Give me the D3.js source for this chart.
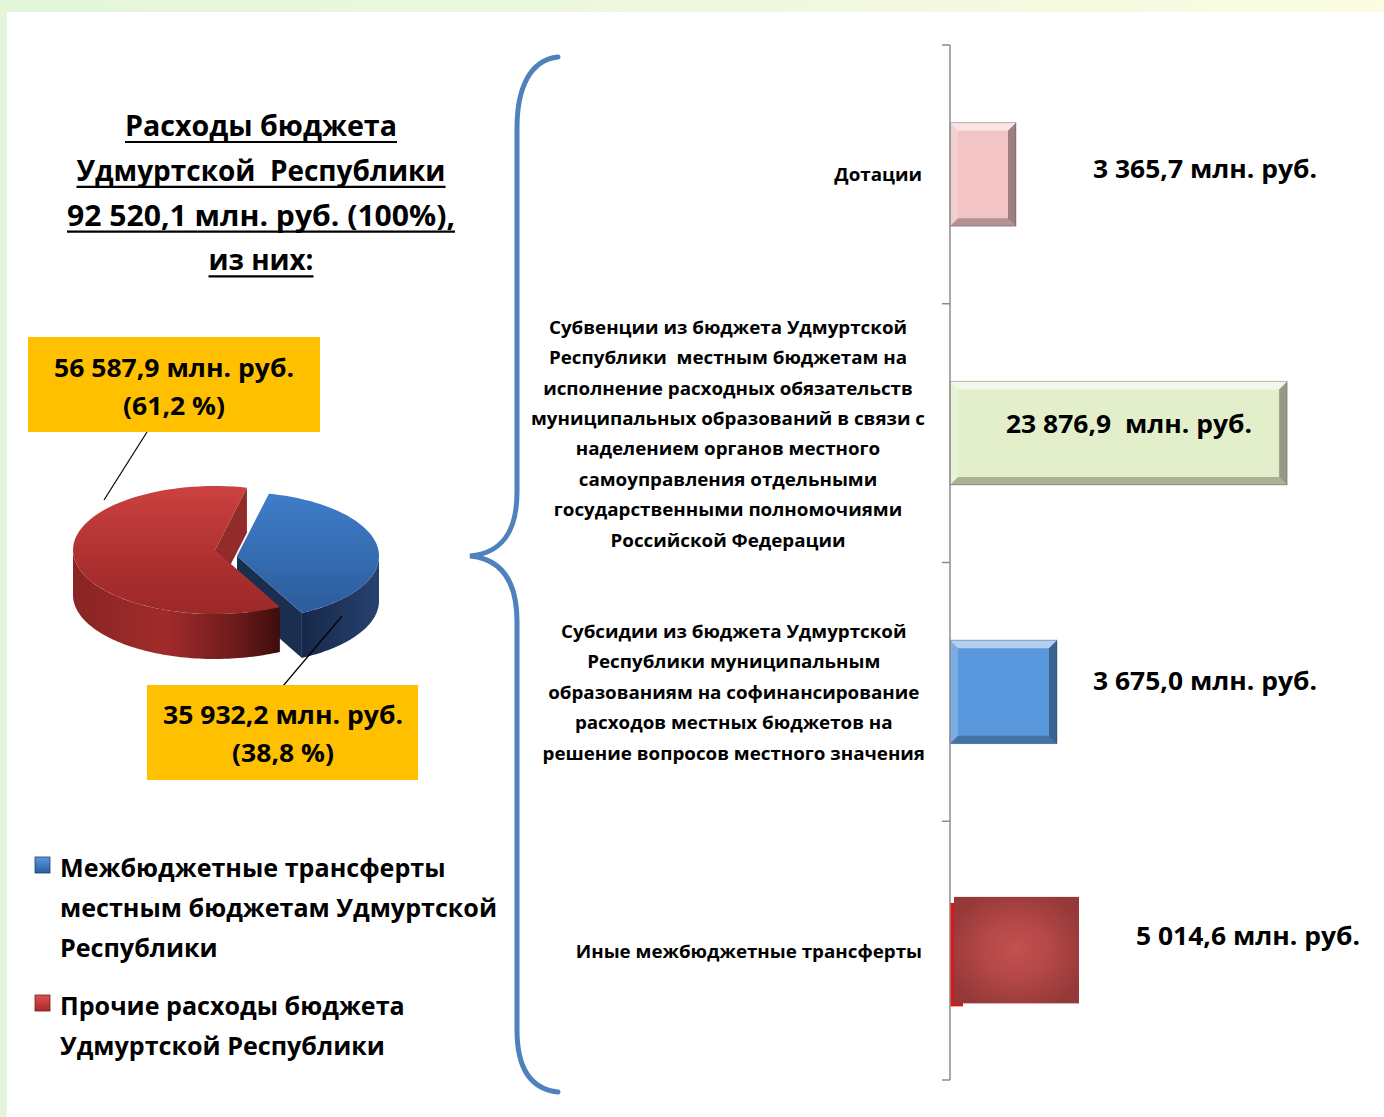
<!DOCTYPE html>
<html><head><meta charset="utf-8">
<script src="https://cdn.jsdelivr.net/npm/d3@7"></script>
<style>
html,body{margin:0;padding:0;background:#fff;}
svg{display:block;}
text{font-family:"Open Sans","Noto Sans","DejaVu Sans",sans-serif;font-weight:700;fill:#000;white-space:pre;}
</style></head>
<body><svg id="chart" width="1384" height="1117"></svg>
<script>
// ---------------- DATA ----------------
const titleLines = ["Расходы бюджета", "Удмуртской  Республики", "92 520,1 млн. руб. (100%),", "из них:"];

const pieCategories = ["Межбюджетные трансферты местным бюджетам Удмуртской Республики",
                       "Прочие расходы бюджета Удмуртской Республики"];
const pieValues = [35932.2, 56587.9];
const piePercents = [38.8, 61.2];
const pieLabelLines = [["35 932,2 млн. руб.", "(38,8 %)"], ["56 587,9 млн. руб.", "(61,2 %)"]];
const legendLines = [["Межбюджетные трансферты", "местным бюджетам Удмуртской", "Республики"],
                     ["Прочие расходы бюджета", "Удмуртской Республики"]];

const barCategories = ["Дотации", "Субвенции", "Субсидии", "Иные"];
const barCategoryLines = [
  ["Дотации"],
  ["Субвенции из бюджета Удмуртской", "Республики  местным бюджетам на", "исполнение расходных обязательств",
   "муниципальных образований в связи с", "наделением органов местного", "самоуправления отдельными",
   "государственными полномочиями", "Российской Федерации"],
  ["Субсидии из бюджета Удмуртской", "Республики муниципальным", "образованиям на софинансирование",
   "расходов местных бюджетов на", "решение вопросов местного значения"],
  ["Иные межбюджетные трансферты"]
];
const barValues = [3365.7, 23876.9, 3675.0, 5014.6];
const barValueLabels = ["3 365,7 млн. руб.", "23 876,9  млн. руб.", "3 675,0 млн. руб.", "5 014,6 млн. руб."];
// bar lengths as drawn in the source picture (the source bars are not proportional to the labels)
const barDrawnLengths = [4675, 23876.9, 7578, 9136];

// ---------------- SETUP ----------------
const svg = d3.select("#chart");
const defs = svg.append("defs");
function linGrad(id, stops, x1, y1, x2, y2) {
  const g = defs.append("linearGradient").attr("id", id)
    .attr("x1", x1).attr("y1", y1).attr("x2", x2).attr("y2", y2);
  stops.forEach(s => g.append("stop").attr("offset", s[0]).attr("stop-color", s[1]));
}
linGrad("bgGrad", [[0, "#e3f6da"], [0.5, "#eef8de"], [1, "#fcfce4"]], 0, 0, 1, 0);
linGrad("redTop", [[0, "#cb4140"], [0.6, "#ad3030"], [1, "#9c2828"]], 0, 0, 0, 1);
linGrad("redWall", [[0, "#8a2424"], [0.45, "#a12b2b"], [0.8, "#6a1a1a"], [1, "#3e0c0c"]], 0, 0, 1, 0);
linGrad("blueTop", [[0, "#3f7dca"], [1, "#2c5c9c"]], 0, 0, 0, 1);
linGrad("blueWall", [[0, "#16284a"], [1, "#27426e"]], 0, 0, 1, 0);
linGrad("legBlue", [[0, "#5a9ae0"], [1, "#2a5d9f"]], 0, 0, 0, 1);
linGrad("legRed", [[0, "#e05050"], [1, "#a82a2a"]], 0, 0, 0, 1);
const rg = defs.append("radialGradient").attr("id", "otherGrad").attr("cx", 0.5).attr("cy", 0.5).attr("r", 0.6);
rg.append("stop").attr("offset", 0).attr("stop-color", "#c25150");
rg.append("stop").attr("offset", 0.45).attr("stop-color", "#b44747");
rg.append("stop").attr("offset", 1).attr("stop-color", "#943838");

// background
svg.append("rect").attr("width", 1384).attr("height", 1117).attr("fill", "url(#bgGrad)");
svg.append("rect").attr("x", 7).attr("y", 12).attr("width", 1377).attr("height", 1105).attr("fill", "#fff");

// helper: condense widths to match target width of a reference line
function fitGroup(texts, refIndex, targetWidth) {
  const nodes = texts.nodes();
  const wRef = nodes[refIndex].getComputedTextLength();
  const f = targetWidth / wRef;
  nodes.forEach(n => {
    const w = n.getComputedTextLength();
    d3.select(n).attr("textLength", w * f).attr("lengthAdjust", "spacingAndGlyphs");
  });
}

// ---------------- TITLE ----------------
const titleWidths = [272, 369, 388, 105];
const titleG = svg.append("g");
const titleSel = titleG.selectAll("text").data(titleLines).join("text")
  .attr("x", 261).attr("y", (d, i) => 136 + i * 44.8)
  .attr("text-anchor", "middle").style("font-size", "29px")
  .attr("textLength", (d, i) => titleWidths[i]).attr("lengthAdjust", "spacingAndGlyphs")
  .text(d => d);
titleG.selectAll("line").data(titleLines).join("line")
  .attr("x1", (d, i) => 261 - titleWidths[i] / 2).attr("x2", (d, i) => 261 + titleWidths[i] / 2)
  .attr("y1", (d, i) => 142 + i * 44.8).attr("y2", (d, i) => 142 + i * 44.8)
  .attr("stroke", "#000").attr("stroke-width", 2.2);

// ---------------- 3D PIE ----------------
const a0 = 13 * Math.PI / 180;
const pie = d3.pie().sort(null).value(d => d).startAngle(a0).endAngle(a0 + 2 * Math.PI);
const arcs = pie(pieValues);
const P = {cx: 215, cy: 550, rx: 142, ry: 64, depth: 45};
const explode = [[22, 6], [0, 0]];
const topFills = ["url(#blueTop)", "url(#redTop)"];
const wallFills = ["url(#blueWall)", "url(#redWall)"];
const faceFills = ["#1a2e50", "#922b2b"];

function rim(a, i, h) {
  return [P.cx + explode[i][0] + P.rx * Math.sin(a), P.cy + explode[i][1] - P.ry * Math.cos(a) + h];
}
function apex(i, h) { return [P.cx + explode[i][0], P.cy + explode[i][1] + h]; }
function arcPts(s, e, i, h) {
  const n = 80, pts = [];
  for (let k = 0; k <= n; k++) pts.push(rim(s + (e - s) * k / n, i, h));
  return pts;
}
const line = d3.line();
const pieG = svg.append("g");

// radial faces that face the viewer
const faces = [];
arcs.forEach((a, i) => {
  [[a.startAngle, -1], [a.endAngle, 1]].forEach(([ang, s]) => {
    const normalY = -Math.cos(ang + s * Math.PI / 2);
    if (normalY > 0) faces.push({i, ang});
  });
});
faces.sort((p, q) => rim(p.ang, p.i, 0)[1] - rim(q.ang, q.i, 0)[1]);
faces.forEach(f => {
  const pts = [apex(f.i, 0), rim(f.ang, f.i, 0), rim(f.ang, f.i, P.depth), apex(f.i, P.depth)];
  pieG.append("path").attr("d", line(pts) + "Z").attr("fill", faceFills[f.i]);
});
// outer walls (front half)
const walls = [];
arcs.forEach((a, i) => {
  [0, 2 * Math.PI].forEach(off => {
    const lo = Math.max(a.startAngle, Math.PI / 2 + off), hi = Math.min(a.endAngle, 3 * Math.PI / 2 + off);
    if (hi > lo) walls.push({i, lo, hi});
  });
});
walls.sort((p, q) => p.i - q.i);
walls.forEach(w => {
  const topPts = arcPts(w.lo, w.hi, w.i, 0);
  const botPts = arcPts(w.lo, w.hi, w.i, P.depth).reverse();
  pieG.append("path").attr("d", line(topPts.concat(botPts)) + "Z").attr("fill", wallFills[w.i]);
});
// top faces
[1, 0].forEach(i => {
  const a = arcs[i];
  const pts = [apex(i, 0)].concat(arcPts(a.startAngle, a.endAngle, i, 0));
  pieG.append("path").attr("d", line(pts) + "Z").attr("fill", topFills[i]);
});

// leader lines
const leaders = [[[283, 686], [342, 616]], [[147, 432], [104, 500]]];
svg.append("g").selectAll("line").data(leaders).join("line")
  .attr("x1", d => d[0][0]).attr("y1", d => d[0][1]).attr("x2", d => d[1][0]).attr("y2", d => d[1][1])
  .attr("stroke", "#000").attr("stroke-width", 1.2);

// label boxes
const boxes = [{x: 147, y: 685, w: 271, h: 95, cx: 283, b: 724}, {x: 28, y: 337, w: 292, h: 95, cx: 174, b: 377}];
const labG = svg.append("g");
boxes.forEach(bx => {
  labG.append("rect").attr("x", bx.x).attr("y", bx.y).attr("width", bx.w).attr("height", bx.h).attr("fill", "#ffc000");
});
const pieLabelTexts = labG.selectAll("text.pl")
  .data(pieLabelLines.flatMap((ls, i) => ls.map((t, j) => ({t, i, j}))))
  .join("text").attr("class", "pl")
  .attr("x", d => boxes[d.i].cx).attr("y", d => boxes[d.i].b + d.j * 38)
  .attr("text-anchor", "middle").style("font-size", "25px").text(d => d.t);
fitGroup(pieLabelTexts, 2, 240);

// legend
const legG = svg.append("g");
const legTop = [877, 1015];
const legFills = ["url(#legBlue)", "url(#legRed)"];
pieCategories.forEach((c, i) => {
  legG.append("rect").attr("x", 35).attr("y", legTop[i] - 20).attr("width", 15).attr("height", 16)
    .attr("fill", legFills[i]).attr("stroke", i === 0 ? "#1f3f6e" : "#7a1a1a").attr("stroke-width", 0.8);
});
const legTexts = legG.selectAll("text")
  .data(legendLines.flatMap((ls, i) => ls.map((t, j) => ({t, i, j}))))
  .join("text").attr("x", 60).attr("y", d => legTop[d.i] + d.j * 40)
  .style("font-size", "25px").text(d => d.t);
fitGroup(legTexts, 1, 437);

// ---------------- BRACE ----------------
svg.append("path")
  .attr("d", "M558,57 C530,60 517,88 517,128 L517,492 C517,532 502,553 470,556 C502,559 517,582 517,622 L517,1030 C517,1068 530,1089 558,1092")
  .attr("fill", "none").attr("stroke", "#4f81bd").attr("stroke-width", 5).attr("stroke-linecap", "round");

// ---------------- BAR CHART ----------------
const y = d3.scaleBand().domain(barCategories).range([45, 1080]).paddingInner(0.6).paddingOuter(0.3);
const x = d3.scaleLinear().domain([0, 25000]).range([950, 1303]);
const barG = svg.append("g");

const barFills = ["#f2c4c5", "#e3efcb", "#5a98de", "url(#otherGrad)"];
const bevel = [true, true, true, false];
barG.append("rect").attr("x", x(0)).attr("y", y("Иные") + 4).attr("width", 13).attr("height", y.bandwidth())
  .attr("fill", "#d81818");

barCategories.forEach((c, i) => {
  const x0 = x(0), x1 = x(barDrawnLengths[i]), y0 = y(c), h = y.bandwidth();
  const yy0 = i === 3 ? y0 - 2 : y0, hh = i === 3 ? h + 3 : h;
  const xs = i === 3 ? x0 + 4 : x0;
  barG.append("rect").attr("x", xs).attr("y", yy0).attr("width", x1 - xs).attr("height", hh).attr("fill", barFills[i]);
  if (bevel[i]) {
    const b = 8, X0 = x0, X1 = x1, Y0 = y0, Y1 = y0 + h;
    const poly = (pts, fill, op) => barG.append("path").attr("d", line(pts) + "Z").attr("fill", fill).attr("fill-opacity", op);
    poly([[X0, Y0], [X1, Y0], [X1 - b, Y0 + b], [X0 + b, Y0 + b]], "#fff", 0.55);
    poly([[X0, Y0], [X0 + b, Y0 + b], [X0 + b, Y1 - b], [X0, Y1]], "#fff", 0.2);
    poly([[X0, Y1], [X0 + b, Y1 - b], [X1 - b, Y1 - b], [X1, Y1]], "#000", 0.25);
    poly([[X1, Y0], [X1, Y1], [X1 - b, Y1 - b], [X1 - b, Y0 + b]], "#000", 0.35);
    barG.append("rect").attr("x", X0).attr("y", Y0).attr("width", X1 - X0).attr("height", h)
      .attr("fill", "none").attr("stroke", "#000").attr("stroke-opacity", 0.25).attr("stroke-width", 1);
  }
});

// axis
const axisG = svg.append("g").attr("stroke", "#8c8c8c").attr("stroke-width", 1.5);
const step = y.step();
const bounds = d3.range(barCategories.length + 1).map(k => y(barCategories[0]) - step * y.paddingInner() / 2 + k * step);
axisG.append("line").attr("x1", x(0)).attr("x2", x(0)).attr("y1", bounds[0]).attr("y2", bounds[bounds.length - 1]);
axisG.selectAll("line.tick").data(bounds).join("line").attr("class", "tick")
  .attr("x1", x(0) - 8).attr("x2", x(0)).attr("y1", d => d).attr("y2", d => d);

// category labels
const catG = svg.append("g");
const catRight = 925, lineH = 30.4;
const catTextsAll = [];
barCategoryLines.forEach((ls, i) => {
  const cy = y(barCategories[i]) + y.bandwidth() / 2;
  ls.forEach((t, j) => {
    catTextsAll.push({t, i, j, y: cy + (j - (ls.length - 1) / 2) * lineH + 7, n: ls.length});
  });
});
const catTexts = catG.selectAll("text").data(catTextsAll).join("text")
  .attr("y", d => d.y).style("font-size", "18px").text(d => d.t);
fitGroup(catTexts, catTextsAll.findIndex(d => d.t.startsWith("муниципальных")), 394);
barCategoryLines.forEach((ls, i) => {
  const sel = catTexts.filter(d => d.i === i);
  const maxW = d3.max(sel.nodes(), n => +n.getAttribute("textLength"));
  if (ls.length === 1) sel.attr("x", catRight - 3).attr("text-anchor", "end");
  else sel.attr("x", catRight - maxW / 2).attr("text-anchor", "middle");
});

// value labels
const valPos = [[1205, 178], [1129, 433], [1205, 690], [1248, 945]];
const valTexts = svg.append("g").selectAll("text").data(barValueLabels).join("text")
  .attr("x", (d, i) => valPos[i][0]).attr("y", (d, i) => valPos[i][1])
  .attr("text-anchor", "middle").style("font-size", "25px").text(d => d);
fitGroup(valTexts, 0, 224);
</script>
</body></html>
